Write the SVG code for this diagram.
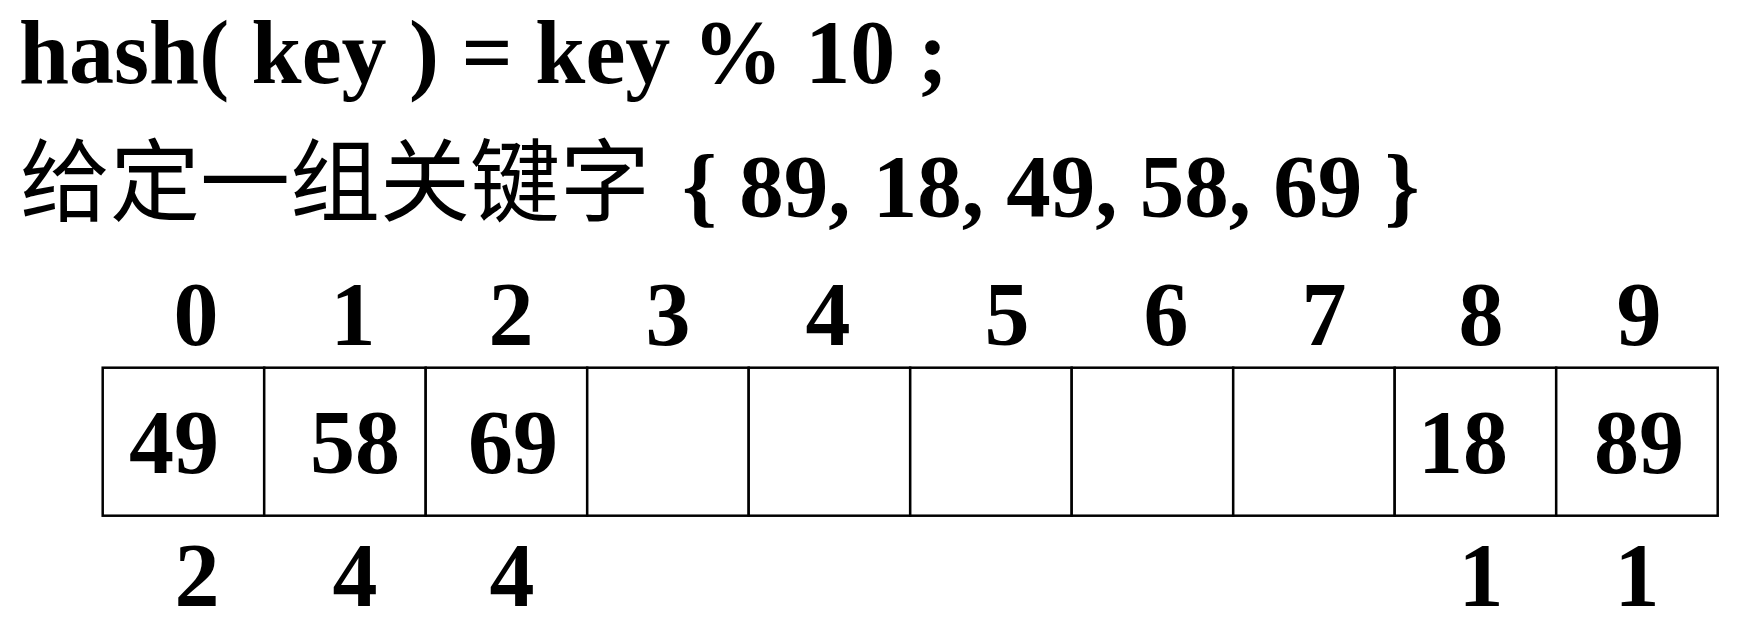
<svg xmlns="http://www.w3.org/2000/svg" width="1749" height="637" viewBox="0 0 1749 637">
<style>
.t{font-family:"Liberation Serif","Times New Roman",serif;font-weight:bold;font-size:90px;fill:#000}
.c{font-family:"Noto Sans CJK SC",sans-serif;font-size:90px;fill:#000}
.m{text-anchor:middle}
.cell{fill:#fff;stroke:#000;stroke-width:2.5}
</style>
<rect width="1749" height="637" fill="#fff"/>
<g id="title">
<text class="t" x="19" y="83">hash( key ) = key % 10 ;</text>
</g>
<g id="keys">
<text class="c" x="20" y="214">给定一组关键字</text>
<text class="t" x="682" y="216" style="font-size:89px">{ 89, 18, 49, 58, 69 }</text>
</g>
<g id="indices">
<text class="t m" x="196" y="345">0</text>
<text class="t m" x="353" y="345">1</text>
<text class="t m" x="511" y="345">2</text>
<text class="t m" x="668" y="345">3</text>
<text class="t m" x="828" y="345">4</text>
<text class="t m" x="1007" y="345">5</text>
<text class="t m" x="1166" y="345">6</text>
<text class="t m" x="1324" y="345">7</text>
<text class="t m" x="1481" y="345">8</text>
<text class="t m" x="1639" y="345">9</text>
</g>
<g id="table">
<rect class="cell" x="102.7" y="367.7" width="161.5" height="148"/>
<rect class="cell" x="264.2" y="367.7" width="161.5" height="148"/>
<rect class="cell" x="425.7" y="367.7" width="161.5" height="148"/>
<rect class="cell" x="587.2" y="367.7" width="161.5" height="148"/>
<rect class="cell" x="748.7" y="367.7" width="161.5" height="148"/>
<rect class="cell" x="910.2" y="367.7" width="161.5" height="148"/>
<rect class="cell" x="1071.7" y="367.7" width="161.5" height="148"/>
<rect class="cell" x="1233.2" y="367.7" width="161.5" height="148"/>
<rect class="cell" x="1394.7" y="367.7" width="161.5" height="148"/>
<rect class="cell" x="1556.2" y="367.7" width="161.5" height="148"/>
</g>
<g id="values">
<text class="t m" x="174" y="473">49</text>
<text class="t m" x="355" y="473">58</text>
<text class="t m" x="513" y="473">69</text>
<text class="t m" x="1463" y="473">18</text>
<text class="t m" x="1639" y="473">89</text>
</g>
<g id="probes">
<text class="t m" x="197" y="606">2</text>
<text class="t m" x="355" y="606">4</text>
<text class="t m" x="512" y="606">4</text>
<text class="t m" x="1481" y="606">1</text>
<text class="t m" x="1637" y="606">1</text>
</g>
</svg>
